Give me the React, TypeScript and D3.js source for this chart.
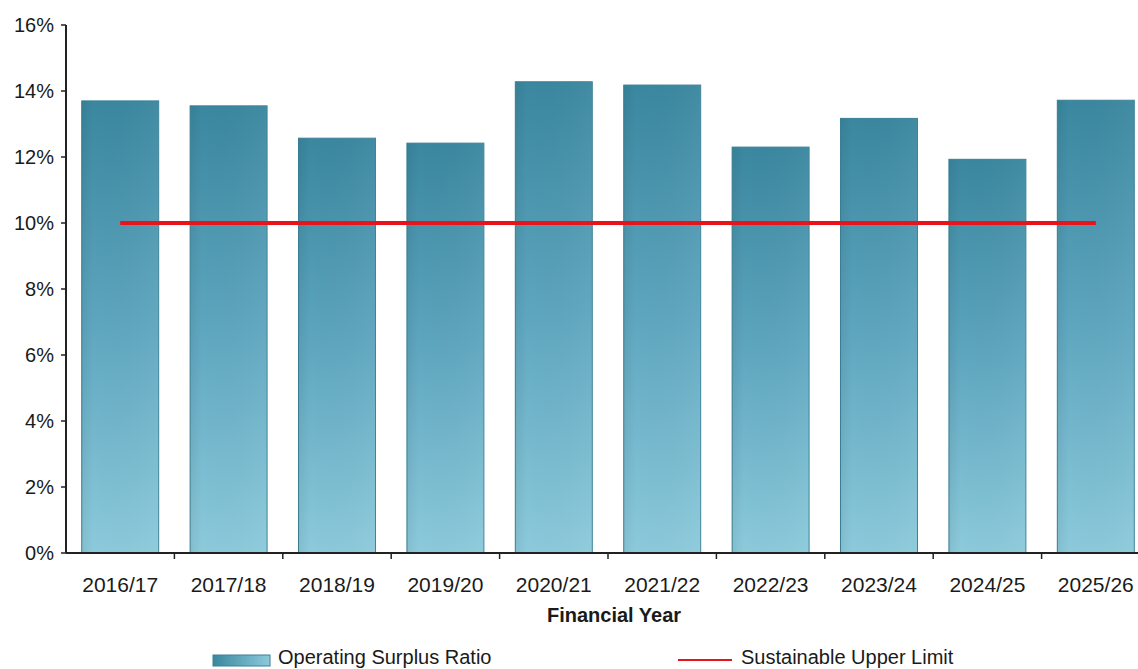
import React from "react";
import * as d3 from "d3";

const categories = ["2016/17", "2017/18", "2018/19", "2019/20", "2020/21", "2021/22", "2022/23", "2023/24", "2024/25", "2025/26"];
const surplusRatio = [13.7, 13.55, 12.57, 12.42, 14.28, 14.18, 12.3, 13.17, 11.93, 13.72];
const upperLimit = 10;
const yTicks = [0, 2, 4, 6, 8, 10, 12, 14, 16];

const W = 1138;
const H = 669;
const left = 66;
const right = 1150;
const top = 25;
const bottom = 553;
const FONT = "Liberation Sans, Arial, sans-serif";

export default function App() {
  const x = d3.scaleBand<string>().domain(categories).range([left, right]).paddingInner(0.29).paddingOuter(0.145);
  const y = d3.scaleLinear().domain([0, 16]).range([bottom, top]);
  const step = x.step();
  const line = d3.line<string>().x((c) => (x(c) as number) + x.bandwidth() / 2).y(() => y(upperLimit));

  return (
    <svg width={W} height={H} style={{ position: "absolute", left: 0, top: 0, background: "#fff" }} fontFamily={FONT}>
      <defs>
        <linearGradient id="barV" x1="0" y1="0" x2="0" y2="1">
          <stop offset="0" stopColor="#3a879f" />
          <stop offset="0.5" stopColor="#5ea6bf" />
          <stop offset="1" stopColor="#8ccadb" />
        </linearGradient>
        <linearGradient id="barH" x1="0" y1="0" x2="1" y2="0">
          <stop offset="0" stopColor="#000" stopOpacity="0.06" />
          <stop offset="0.15" stopColor="#000" stopOpacity="0" />
          <stop offset="1" stopColor="#fff" stopOpacity="0.04" />
        </linearGradient>
        <linearGradient id="legendG" x1="0" y1="0" x2="1" y2="0">
          <stop offset="0" stopColor="#3a879f" />
          <stop offset="1" stopColor="#8ccadb" />
        </linearGradient>
      </defs>

      {categories.map((c, i) => (
        <g key={c}>
          <rect x={x(c)} y={y(surplusRatio[i])} width={x.bandwidth()} height={bottom - y(surplusRatio[i])} fill="url(#barV)" stroke="#3a8197" strokeWidth={1} />
          <rect x={x(c)} y={y(surplusRatio[i])} width={x.bandwidth()} height={bottom - y(surplusRatio[i])} fill="url(#barH)" />
        </g>
      ))}

      <path d={line(categories) || ""} stroke="#e8141b" strokeWidth={4} fill="none" />

      {/* y axis */}
      <line x1={left} x2={left} y1={top} y2={bottom} stroke="#222" strokeWidth={2} />
      {yTicks.map((t) => (
        <g key={t}>
          <line x1={left - 5} x2={left} y1={y(t)} y2={y(t)} stroke="#222" strokeWidth={1.5} />
          <text x={left - 12} y={y(t)} dy="0.35em" textAnchor="end" fontSize={20} fill="#1a1a1a">{t}%</text>
        </g>
      ))}

      {/* x axis */}
      <line x1={left} x2={right} y1={bottom} y2={bottom} stroke="#222" strokeWidth={2} />
      {categories.map((c, i) => (
        <g key={c}>
          {i > 0 && <line x1={(x(c) as number) - (step - x.bandwidth()) / 2} x2={(x(c) as number) - (step - x.bandwidth()) / 2} y1={bottom} y2={bottom + 6} stroke="#222" strokeWidth={1.5} />}
          <text x={(x(c) as number) + x.bandwidth() / 2} y={592} textAnchor="middle" fontSize={21} fill="#1a1a1a">{c}</text>
        </g>
      ))}
      <text x={614} y={622} textAnchor="middle" fontSize={20} fontWeight="bold" fill="#1a1a1a">Financial Year</text>

      {/* legend */}
      <rect x={213} y={655} width={57} height={11} fill="url(#legendG)" stroke="#3a8197" strokeWidth={1} />
      <text x={278} y={664} fontSize={20} fill="#1a1a1a">Operating Surplus Ratio</text>
      <line x1={678} x2={732} y1={660} y2={660} stroke="#e8141b" strokeWidth={2} />
      <text x={741} y={664} fontSize={20} fill="#1a1a1a">Sustainable Upper Limit</text>
    </svg>
  );
}
